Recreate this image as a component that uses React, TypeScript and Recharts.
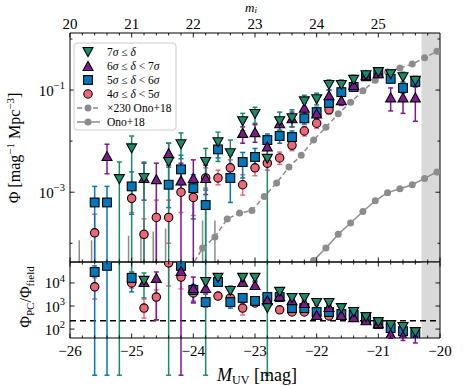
import React from 'react';
import {
  ComposedChart,
  Scatter,
  Line,
  XAxis,
  YAxis,
  ErrorBar,
  ReferenceArea,
  ReferenceLine,
} from 'recharts';

// ---------------- data ----------------
const M_BINS = [-25.6, -25.4, -25.2, -25.0, -24.8, -24.6, -24.4, -24.2, -24.0, -23.8, -23.6, -23.4, -23.2,
  -23.0, -22.8, -22.6, -22.4, -22.2, -22.0, -21.8, -21.6, -21.4, -21.2, -21.0, -20.8, -20.6, -20.4];

// upper panel: Phi [mag^-1 Mpc^-3]; Lo = 0 means error bar reaches zero
const PHI_7 = [null, null, 0.0018, 0.0072, 0.0019, null, 0.0039, 0.0087, null, 0.0039, 0.0095, 0.0058, 0.0245,
  0.034, 0.0045, 0.0245, 0.028, 0.06, 0.066, 0.126, 0.126, 0.158, 0.195, 0.224, 0.204, 0.178, 0.151];
const PHI_7_HI = [null, null, 0.0039, 0.0126, 0.0039, null, 0.0091, 0.0145, null, 0.0072, 0.015, 0.0105, 0.035,
  0.046, 0.0083, 0.037, 0.041, 0.079, 0.087, 0.158, 0.158, 0.195, 0.23, 0.26, 0.25, 0.224, 0.186];
const PHI_7_LO = [null, null, 0, 0, 0, null, 0, 0.0045, null, 0, 0.004, 0.0027, 0.016, 0.0224, 0, 0.016, 0.019,
  0.041, 0.051, 0.1, 0.1, 0.126, 0.16, 0.19, 0.166, 0.145, 0.12];

const PHI_6 = [null, 0.0051, null, null, 0.0019, 0.0018, 0.0058, 0.0017, 0.0019, 0.0019, null, null, 0.0145,
  0.015, 0.0079, 0.0224, 0.028, 0.045, 0.035, 0.079, 0.063, 0.126, 0.195, 0.214, 0.072, 0.072, 0.072];
const PHI_6_HI = [null, 0.0087, null, null, 0.0037, 0.0037, 0.0091, 0.0037, 0.0043, 0.0034, null, null, 0.019,
  0.021, 0.011, 0.029, 0.037, 0.056, 0.045, 0.1, 0.079, 0.15, 0.23, 0.25, 0.11, 0.115, 0.115];
const PHI_6_LO = [null, 0.0023, null, null, 0.0007, 0, 0.0034, 0, 0, 0.0009, null, null, 0.0091, 0.0095, 0.0047,
  0.0158, 0.019, 0.032, 0.026, 0.06, 0.05, 0.105, 0.16, 0.19, 0.039, 0.035, 0.0245];

const PHI_5 = [0.00063, 0.00063, null, 0.0013, null, null, 0.0014, 0.0028, 0.0012, 0.00056, 0.0069, 0.0019,
  0.0039, 0.0049, 0.0105, 0.0126, 0.012, 0.028, 0.037, 0.056, 0.091, 0.115, 0.186, 0.214, 0.166, 0.11, 0.145];
const PHI_5_HI = [0.0013, 0.0013, null, 0.0025, null, null, 0.0031, 0.0053, 0.0022, 0.0011, 0.0095, 0.0053,
  0.006, 0.0072, 0.0138, 0.0164, 0.0158, 0.035, 0.046, 0.066, 0.11, 0.138, 0.22, 0.25, 0.195, 0.138, 0.17];
const PHI_5_LO = [0, 0, null, 0.00037, null, null, 0.0005, 0.0014, 0.0003, 0, 0.0047, 0.00063, 0.0019, 0.0027,
  0.0072, 0.0091, 0.0087, 0.0216, 0.028, 0.045, 0.076, 0.095, 0.158, 0.186, 0.14, 0.087, 0.12];

const PHI_4 = [0.00016, null, null, 0.00076, 0.00015, 0.00032, 0.00032, 0.001, 0.00079, 0.0019, 0.0019, 0.003,
  0.0014, 0.003, 0.0037, 0.0047, 0.0083, 0.0158, 0.0224, 0.041, null, null, null, null, null, null, null];
const PHI_4_HI = [0.00037, null, null, 0.0014, 0.0003, 0.0007, 0.0007, 0.0017, 0.0014, 0.003, 0.0027, 0.0043,
  0.0022, 0.0041, 0.0049, 0.0061, 0.0105, 0.0195, 0.028, 0.048, null, null, null, null, null, null, null];
const PHI_4_LO = [0, null, null, 0.0004, 0, 0, 0.0001, 0.0004, 0.00035, 0.0012, 0.0014, 0.0017, 0.00088,
  0.0021, 0.0027, 0.0035, 0.0065, 0.0126, 0.0178, 0.034, null, null, null, null, null, null, null];

// lower panel: Phi_PC / Phi_field
const R_7 = [null, null, 2e5, 1.2e5, 12300, null, 2e5, null, null, 11000, 16600, 4500, 16600, 16600, 810, 4100,
  2240, 2240, 1350, 1350, 810, 550, 330, 200, 148, 123, 74];
const R_7_HI = [null, null, 1e7, 2e5, 27000, null, 1e7, null, null, 1e7, 22000, 7400, 21000, 21000, 1e7, 5500,
  3000, 3000, 1700, 1700, 1000, 680, 400, 240, 180, 150, 95];
const R_7_LO = [null, null, 0, 28000, 2240, null, 0, null, null, 0, 12500, 2700, 12300, 12300, 0, 3000, 1660,
  1660, 1050, 1050, 650, 450, 270, 165, 120, 100, 58];

const R_6 = [null, null, null, null, 11000, 16600, null, 33000, 6000, 6000, null, null, 11000, 8100, 1800, 2700,
  1800, 1350, 410, 910, 410, 330, 240, 180, 60, 50, 41];
const R_6_HI = [null, null, null, null, 16600, 30000, null, 1e7, 18000, 9100, null, null, 15000, 11000, 2500,
  3600, 2400, 1800, 550, 1200, 550, 430, 310, 230, 100, 80, 70];
const R_6_LO = [null, null, null, null, 7400, 250, null, 0, 1350, 3300, null, null, 8100, 6000, 1300, 2000, 1350,
  1000, 300, 700, 300, 250, 180, 140, 40, 32, 25];

const R_5 = [30000, 55000, null, 16600, null, null, null, 55000, 5000, 1480, 11000, 1480, 2240, 1660, 2450, 2450,
  810, 810, 550, 550, 450, 410, 270, 166, 110, 81, 60];
const R_5_HI = [55000, 1e7, null, 30000, null, null, null, 80000, 8500, 2200, 14000, 2700, 3000, 2200, 3300,
  3200, 1050, 1050, 700, 700, 560, 500, 330, 200, 135, 100, 75];
const R_5_LO = [0, 0, null, 4100, null, null, null, 20000, 1480, 900, 8100, 810, 1660, 1250, 1800, 1850, 620,
  620, 430, 430, 360, 330, 220, 138, 90, 66, 48];

const R_4 = [6800, null, null, 10000, 810, 2450, 74000, 18000, 3700, null, 2700, 2240, 810, 1350, 1350, 680, 550,
  550, 410, 370, null, null, null, null, null, null, null];
const R_4_HI = [16600, null, null, 14000, 2000, 5000, 1e6, 30000, 6800, null, 3700, 3000, 1350, 1800, 1800, 900,
  700, 700, 520, 470, null, null, null, null, null, null, null];
const R_4_LO = [2000, null, null, 6000, 300, 250, 7400, 5500, 1660, null, 2000, 1660, 410, 1000, 1000, 520, 430,
  430, 320, 290, null, null, null, null, null, null, null];

// Ono+18 field luminosity function
const ONO_M = [-24.05, -23.85, -23.65, -23.45, -23.25, -23.05, -22.85, -22.65, -22.45, -22.25, -22.05, -21.85,
  -21.65, -21.45, -21.25, -21.05, -20.85, -20.65, -20.45, -20.25, -20.05];
const ONO_PHI = [1.4e-7, 3.5e-7, 5.8e-7, 1.3e-6, 1.7e-6, 1.9e-6, 3.6e-6, 6.6e-6, 1.35e-5, 2.3e-5, 4.6e-5, 8.1e-5,
  1.5e-4, 2.5e-4, 4.2e-4, 6.8e-4, 9.8e-4, 1.17e-3, 1.4e-3, 1.86e-3, 2.5e-3];
const ONO_SCALE = 230;
// upper ends of Ono+18 error bars at the bright end
const ONO_ERR_M = [-25.85, -25.65, -25.05, -24.85, -24.65, -24.45, -23.85, -23.65];
const ONO_ERR_TOP = [5.0e-7, 5.0e-7, 6.1e-7, 7.0e-7, 7.4e-7, 8.5e-7, 1.22e-6, 1.22e-6];

// axes
const X_MAJOR = [-26, -25, -24, -23, -22, -21, -20];
const MI_MAJOR = [20, 21, 22, 23, 24, 25];
const Y_UP_TICKS = [1e-4, 1e-3, 1e-2, 1e-1, 1];
const Y_UP_LABELED = [1e-3, 1e-1];
const Y_LOW_TICKS = [1e2, 1e3, 1e4];
const Y_UP_DOMAIN = [4.3e-5, 1.31];
const Y_LOW_DOMAIN = [41, 81000];
const X_DOMAIN = [-26, -20];
const MI_DOMAIN = [20, 26];
const SHADE_FROM = -20.3;

// ---------------- styling ----------------
const C7 = '#1b8a6b';
const C6 = '#7d1a8c';
const C5 = '#0077bb';
const C4 = '#ee6677';
const GREY = '#8c8c8c';
const SHADE = '#d9d9d9';
const FONT = '"Liberation Serif", "Times New Roman", serif';

const xTicks = Array.from({ length: 31 }, (_, i) => +(X_MAJOR[0] + i * 0.2).toFixed(2));
const miTicks = Array.from({ length: 30 }, (_, i) => +(MI_MAJOR[0] + i * 0.2).toFixed(2));

const isInt = (v: number) => Math.abs(v - Math.round(v)) < 1e-6;
const fmtNum = (v: number) => (v < 0 ? '\u2212' : '') + Math.abs(v);
const logLabel = (v: number) => {
  const e = Math.round(Math.log10(v));
  return (
    <>
      <tspan>10</tspan>
      <tspan dy={-6.5} fontSize={10.5}>{e < 0 ? '\u2212' + -e : String(e)}</tspan>
    </>
  );
};

type Side = 'top' | 'bottom' | 'left' | 'right';
function makeTick(side: Side, isMajor: (v: number) => boolean, label?: (v: number) => React.ReactNode) {
  return (p: any) => {
    const x = Number(p.x);
    const y = Number(p.y);
    const v = Number(p.payload && p.payload.value);
    const major = isMajor(v);
    const len = major ? 4.5 : 2.5;
    const dx = side === 'left' ? len : side === 'right' ? -len : 0;
    const dy = side === 'top' ? len : side === 'bottom' ? -len : 0;
    const lab = major && label ? label(v) : null;
    let text: React.ReactNode = null;
    if (lab != null) {
      if (side === 'bottom') {
        text = <text x={x} y={y + 18} textAnchor="middle" fontSize={15} fontFamily={FONT} fill="#000">{lab}</text>;
      } else if (side === 'top') {
        text = <text x={x} y={y - 4.5} textAnchor="middle" fontSize={15} fontFamily={FONT} fill="#000">{lab}</text>;
      } else if (side === 'left') {
        text = <text x={x - 5} y={y + 5.5} textAnchor="end" fontSize={15} fontFamily={FONT} fill="#000">{lab}</text>;
      }
    }
    return (
      <g>
        <line x1={x} y1={y} x2={x + dx} y2={y + dy} stroke="#000" strokeWidth={0.9} />
        {text}
      </g>
    );
  };
}

const upMajor = (v: number) => Y_UP_LABELED.some((t) => Math.abs(t - v) / t < 1e-6);
const allMajor = () => true;
const miLabel = (v: number) => (MI_MAJOR.some((m) => Math.abs(m - v) < 1e-6) ? String(Math.round(v)) : null);

// markers
const triDown = (color: string) => (p: any) => {
  const { cx, cy } = p;
  if (!Number.isFinite(cx) || !Number.isFinite(cy)) return <g />;
  return <polygon points={`${cx - 5},${cy - 4.5} ${cx + 5},${cy - 4.5} ${cx},${cy + 4.5}`} fill={color} stroke="#000" strokeWidth={1.1} />;
};
const triUp = (color: string) => (p: any) => {
  const { cx, cy } = p;
  if (!Number.isFinite(cx) || !Number.isFinite(cy)) return <g />;
  return <polygon points={`${cx - 5},${cy + 4.5} ${cx + 5},${cy + 4.5} ${cx},${cy - 4.5}`} fill={color} stroke="#000" strokeWidth={1.1} />;
};
const square = (color: string) => (p: any) => {
  const { cx, cy } = p;
  if (!Number.isFinite(cx) || !Number.isFinite(cy)) return <g />;
  return <rect x={cx - 4.4} y={cy - 4.4} width={8.8} height={8.8} fill={color} stroke="#000" strokeWidth={1.1} />;
};
const circle = (color: string) => (p: any) => {
  const { cx, cy } = p;
  if (!Number.isFinite(cx) || !Number.isFinite(cy)) return <g />;
  return <circle cx={cx} cy={cy} r={4.2} fill={color} stroke="#000" strokeWidth={1.1} />;
};
const noShape = () => <g />;

function build(v: (number | null)[], hi: (number | null)[], lo: (number | null)[], floor: number) {
  const out: { M: number; v: number; err: [number, number] }[] = [];
  for (let i = 0; i < M_BINS.length; i++) {
    const val = v[i];
    if (val == null) continue;
    const l = Math.max(lo[i] == null ? val : (lo[i] as number), floor);
    const h = hi[i] == null ? val : (hi[i] as number);
    out.push({ M: M_BINS[i], v: val, err: [val - l, h - val] });
  }
  return out;
}

const up7 = build(PHI_7, PHI_7_HI, PHI_7_LO, 1e-9);
const up6 = build(PHI_6, PHI_6_HI, PHI_6_LO, 1e-9);
const up5 = build(PHI_5, PHI_5_HI, PHI_5_LO, 1e-9);
const up4 = build(PHI_4, PHI_4_HI, PHI_4_LO, 1e-9);
const lo7 = build(R_7, R_7_HI, R_7_LO, 1);
const lo6 = build(R_6, R_6_HI, R_6_LO, 1);
const lo5 = build(R_5, R_5_HI, R_5_LO, 1);
const lo4 = build(R_4, R_4_HI, R_4_LO, 1);

const onoData = ONO_M.map((m, i) => ({ M: m, v: ONO_PHI[i] }));
const onoScaledData = ONO_M.map((m, i) => ({ M: m, v: ONO_PHI[i] * ONO_SCALE }));
const onoErrData = ONO_ERR_M.map((m, i) => {
  const top = ONO_ERR_TOP[i] * ONO_SCALE;
  return { M: m, v: top, err: [top - 1e-9, 0] as [number, number] };
});

// invisible anchors so the secondary (frame) axes are rendered
const upAnchor = MI_MAJOR.map((m) => ({ mi: m, v: 0.01 }));
const lowAnchor = X_MAJOR.map((m) => ({ M: m, v: 1000 }));

const SERIES = [
  { key: '4', color: C4, shape: circle },
  { key: '5', color: C5, shape: square },
  { key: '6', color: C6, shape: triUp },
  { key: '7', color: C7, shape: triDown },
];
const UP_DATA: Record<string, any[]> = { '4': up4, '5': up5, '6': up6, '7': up7 };
const LOW_DATA: Record<string, any[]> = { '4': lo4, '5': lo5, '6': lo6, '7': lo7 };

const axisLine = { stroke: '#000', strokeWidth: 1 };

function renderSeries(data: Record<string, any[]>) {
  return SERIES.map((s) => (
    <Scatter
      key={s.key}
      data={data[s.key]}
      dataKey="v"
      xAxisId="b"
      yAxisId="l"
      fill={s.color}
      shape={s.shape(s.color)}
      isAnimationActive={false}
    >
      <ErrorBar dataKey="err" direction="y" width={2.5} stroke={s.color} strokeWidth={1.5} />
    </Scatter>
  ));
}

function LegendOverlay() {
  const rows = [
    { y: 52, kind: 'm', shape: triDown(C7), text: <><tspan>7</tspan><tspan fontStyle="italic">σ</tspan><tspan> ≤ </tspan><tspan fontStyle="italic">δ</tspan></> },
    { y: 66, kind: 'm', shape: triUp(C6), text: <><tspan>6</tspan><tspan fontStyle="italic">σ</tspan><tspan> ≤ </tspan><tspan fontStyle="italic">δ</tspan><tspan> &lt; 7</tspan><tspan fontStyle="italic">σ</tspan></> },
    { y: 80, kind: 'm', shape: square(C5), text: <><tspan>5</tspan><tspan fontStyle="italic">σ</tspan><tspan> ≤ </tspan><tspan fontStyle="italic">δ</tspan><tspan> &lt; 6</tspan><tspan fontStyle="italic">σ</tspan></> },
    { y: 94, kind: 'm', shape: circle(C4), text: <><tspan>4</tspan><tspan fontStyle="italic">σ</tspan><tspan> ≤ </tspan><tspan fontStyle="italic">δ</tspan><tspan> &lt; 5</tspan><tspan fontStyle="italic">σ</tspan></> },
    { y: 108, kind: 'dash', text: <tspan>×230 Ono+18</tspan> },
    { y: 122, kind: 'solid', text: <tspan>Ono+18</tspan> },
  ];
  return (
    <g>
      <rect x={74} y={43} width={102} height={87} rx={3} fill="#fff" fillOpacity={0.8} stroke="#cccccc" strokeWidth={1} />
      {rows.map((r, i) => (
        <g key={i}>
          {r.kind === 'm' && (r as any).shape({ cx: 88, cy: r.y })}
          {r.kind !== 'm' && (
            <>
              <line x1={77} y1={r.y} x2={100} y2={r.y} stroke={GREY} strokeWidth={1.5} strokeDasharray={r.kind === 'dash' ? '5 3' : undefined} />
              <circle cx={88} cy={r.y} r={3.5} fill={GREY} />
            </>
          )}
          <text x={107} y={r.y + 4} fontSize={11.5} fontFamily={FONT} fill="#000">{r.text}</text>
        </g>
      ))}
    </g>
  );
}

export default function App() {
  return (
    <div style={{ position: 'absolute', left: 0, top: 0, width: 463, height: 386, background: '#fff', fontFamily: FONT }}>
      <div style={{ position: 'absolute', left: 0, top: 0 }}>
        <ComposedChart width={463} height={263} margin={{ top: 0, right: 22, bottom: 0, left: 0 }}>
          <XAxis xAxisId="b" dataKey="M" type="number" domain={X_DOMAIN} allowDataOverflow ticks={xTicks} interval={0}
            height={1} tickSize={0} tickMargin={0} tickLine={false} axisLine={axisLine} tick={makeTick('bottom', isInt)} />
          <XAxis xAxisId="t" dataKey="mi" orientation="top" type="number" domain={MI_DOMAIN} allowDataOverflow ticks={miTicks}
            interval={0} height={33} tickSize={0} tickMargin={0} tickLine={false} axisLine={axisLine}
            tick={makeTick('top', isInt, miLabel)} />
          <YAxis yAxisId="l" type="number" scale="log" domain={Y_UP_DOMAIN} allowDataOverflow ticks={Y_UP_TICKS}
            interval={0} width={70} tickSize={0} tickMargin={0} tickLine={false} axisLine={axisLine}
            tick={makeTick('left', upMajor, logLabel)} />
          <YAxis yAxisId="r" orientation="right" type="number" scale="log" domain={Y_UP_DOMAIN} allowDataOverflow
            ticks={Y_UP_TICKS} interval={0} width={1} tickSize={0} tickMargin={0} tickLine={false} axisLine={axisLine}
            tick={makeTick('right', upMajor)} />
          <ReferenceArea xAxisId="b" yAxisId="l" x1={SHADE_FROM} x2={-20} fill={SHADE} fillOpacity={1} stroke="none" ifOverflow="hidden" />
          <Scatter data={upAnchor} dataKey="v" xAxisId="t" yAxisId="r" shape={noShape} isAnimationActive={false} />
          <Line data={onoScaledData} dataKey="v" xAxisId="b" yAxisId="l" stroke={GREY} strokeWidth={1.5}
            strokeDasharray="5 3" dot={{ r: 3.5, fill: GREY, stroke: 'none' }} isAnimationActive={false} />
          <Line data={onoData} dataKey="v" xAxisId="b" yAxisId="l" stroke={GREY} strokeWidth={1.5}
            dot={{ r: 3.5, fill: GREY, stroke: 'none' }} isAnimationActive={false} />
          <Scatter data={onoErrData} dataKey="v" xAxisId="b" yAxisId="l" shape={noShape} isAnimationActive={false}>
            <ErrorBar dataKey="err" direction="y" width={0} stroke={GREY} strokeWidth={1.5} />
          </Scatter>
          {renderSeries(UP_DATA)}
        </ComposedChart>
      </div>
      <div style={{ position: 'absolute', left: 0, top: 261 }}>
        <ComposedChart width={463} height={125} margin={{ top: 0, right: 22, bottom: 0, left: 0 }}>
          <XAxis xAxisId="b" dataKey="M" type="number" domain={X_DOMAIN} allowDataOverflow ticks={xTicks} interval={0}
            height={48} tickSize={0} tickMargin={0} tickLine={false} axisLine={axisLine}
            tick={makeTick('bottom', isInt, fmtNum)} />
          <XAxis xAxisId="t" dataKey="M" orientation="top" type="number" domain={X_DOMAIN} allowDataOverflow ticks={xTicks}
            interval={0} height={1} tickSize={0} tickMargin={0} tickLine={false} axisLine={axisLine}
            tick={makeTick('top', isInt)} />
          <YAxis yAxisId="l" type="number" scale="log" domain={Y_LOW_DOMAIN} allowDataOverflow ticks={Y_LOW_TICKS}
            interval={0} width={70} tickSize={0} tickMargin={0} tickLine={false} axisLine={axisLine}
            tick={makeTick('left', allMajor, logLabel)} />
          <YAxis yAxisId="r" orientation="right" type="number" scale="log" domain={Y_LOW_DOMAIN} allowDataOverflow
            ticks={Y_LOW_TICKS} interval={0} width={1} tickSize={0} tickMargin={0} tickLine={false} axisLine={axisLine}
            tick={makeTick('right', allMajor)} />
          <ReferenceArea xAxisId="b" yAxisId="l" x1={SHADE_FROM} x2={-20} fill={SHADE} fillOpacity={1} stroke="none" ifOverflow="hidden" />
          <Scatter data={lowAnchor} dataKey="v" xAxisId="t" yAxisId="r" shape={noShape} isAnimationActive={false} />
          <ReferenceLine xAxisId="b" yAxisId="l" y={230} stroke="#000" strokeWidth={1.3} strokeDasharray="6 4" />
          {renderSeries(LOW_DATA)}
        </ComposedChart>
      </div>
      <svg width={463} height={386} style={{ position: 'absolute', left: 0, top: 0, pointerEvents: 'none' }}>
        <LegendOverlay />
        <text x={251} y={12} textAnchor="middle" fontSize={13} fontFamily={FONT} fill="#000">
          <tspan fontStyle="italic">m</tspan>
          <tspan fontStyle="italic" fontSize={9} dy={1}>i</tspan>
        </text>
        <text x={257} y={381} textAnchor="middle" fontSize={18} fontFamily={FONT} fill="#000">
          <tspan fontStyle="italic">M</tspan>
          <tspan fontSize={12} dy={3}>UV</tspan>
          <tspan dy={-3}> [mag]</tspan>
        </text>
        <text transform="translate(20,148) rotate(-90)" textAnchor="middle" fontSize={16} fontFamily={FONT} fill="#000">
          <tspan>Φ [mag</tspan>
          <tspan fontSize={11} dy={-6}>−1</tspan>
          <tspan dy={6}> Mpc</tspan>
          <tspan fontSize={11} dy={-6}>−3</tspan>
          <tspan dy={6}>]</tspan>
        </text>
        <text transform="translate(31,297) rotate(-90)" textAnchor="middle" fontSize={16} fontFamily={FONT} fill="#000">
          <tspan>Φ</tspan>
          <tspan fontSize={11} dy={3}>PC</tspan>
          <tspan dy={-3}>/Φ</tspan>
          <tspan fontSize={11} dy={3}>field</tspan>
        </text>
      </svg>
    </div>
  );
}
